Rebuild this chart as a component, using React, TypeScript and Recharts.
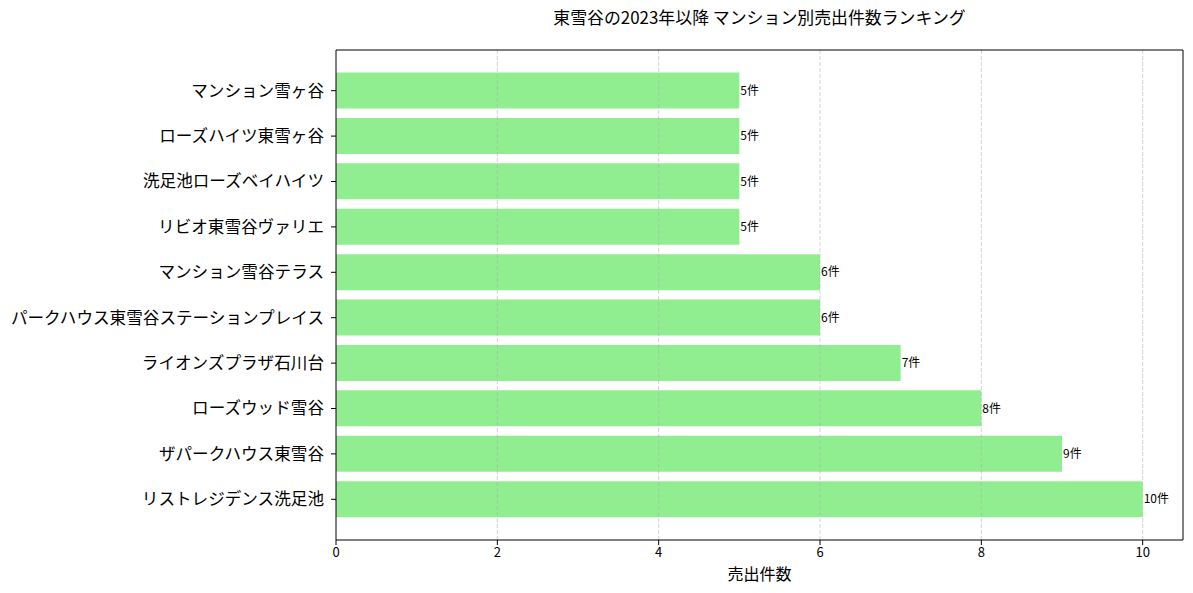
import React from "react";
import {
  BarChart,
  Bar,
  XAxis,
  YAxis,
  ReferenceLine,
  LabelList,
} from "recharts";

const names = [
  "マンション雪ヶ谷",
  "ローズハイツ東雪ヶ谷",
  "洗足池ローズベイハイツ",
  "リビオ東雪谷ヴァリエ",
  "マンション雪谷テラス",
  "パークハウス東雪谷ステーションプレイス",
  "ライオンズプラザ石川台",
  "ローズウッド雪谷",
  "ザパークハウス東雪谷",
  "リストレジデンス洗足池",
];
const counts = [5, 5, 5, 5, 6, 6, 7, 8, 9, 10];
const xTicks = [0, 2, 4, 6, 8, 10];
const gridTicks = [2, 4, 6, 8, 10];

const title = "東雪谷の2023年以降 マンション別売出件数ランキング";
const xLabel = "売出件数";

const data = names.map((name, i) => ({ name, count: counts[i] }));

const FONT = "'Noto Sans CJK JP', 'Noto Sans', sans-serif";

export default function App() {
  return (
    <div
      style={{
        position: "absolute",
        left: 0,
        top: 0,
        width: 1193,
        height: 593,
        background: "#fff",
        fontFamily: FONT,
      }}
    >
      <div
        style={{
          position: "absolute",
          left: 336,
          width: 847,
          top: 5,
          textAlign: "center",
          fontSize: 16.9,
          lineHeight: "24px",
          color: "#000",
        }}
      >
        {title}
      </div>
      <div
        style={{
          position: "absolute",
          left: 336,
          width: 847,
          top: 562,
          textAlign: "center",
          fontSize: 16,
          lineHeight: "22px",
          color: "#000",
        }}
      >
        {xLabel}
      </div>
      <BarChart
        width={1193}
        height={593}
        data={data}
        layout="vertical"
        margin={{ top: 49, right: 9, bottom: 0, left: 0 }}
        barCategoryGap="10%"
        style={{ fontFamily: FONT }}
      >
        <XAxis
          type="number"
          dataKey="count"
          domain={[0, 10.5]}
          ticks={xTicks}
          allowDataOverflow
          height={53}
          tickSize={5}
          tickMargin={3}
          stroke="#000"
          tick={{ fontSize: 13, fill: "#000" }}
          axisLine={{ stroke: "#000", strokeWidth: 1 }}
          tickLine={{ stroke: "#000" }}
        />
        <XAxis
          xAxisId="top"
          orientation="top"
          type="number"
          domain={[0, 10.5]}
          height={1}
          tick={false}
          tickLine={false}
          stroke="#000"
          axisLine={{ stroke: "#000", strokeWidth: 1 }}
        />
        <YAxis
          type="category"
          dataKey="name"
          width={336}
          tickSize={5}
          tickMargin={7}
          padding={{ top: 18, bottom: 18 }}
          stroke="#000"
          tick={{ fontSize: 16.6, fill: "#000" }}
          axisLine={{ stroke: "#000", strokeWidth: 1 }}
          tickLine={{ stroke: "#000" }}
          interval={0}
        />
        <YAxis
          yAxisId="right"
          orientation="right"
          type="category"
          dataKey="name"
          width={1}
          tick={false}
          tickLine={false}
          stroke="#000"
          axisLine={{ stroke: "#000", strokeWidth: 1 }}
        />
        <Bar dataKey="count" fill="#90EE90" isAnimationActive={false}>
          <LabelList
            dataKey="count"
            position="right"
            offset={1}
            formatter={(v: number) => `${v}件`}
            style={{ fontSize: 12, fill: "#000", fontFamily: FONT }}
          />
        </Bar>
        {gridTicks.map((t) => (
          <ReferenceLine
            key={t}
            x={t}
            stroke="#b0b0b0"
            strokeOpacity={0.7}
            strokeDasharray="4 2"
            strokeWidth={0.8}
          />
        ))}
      </BarChart>
    </div>
  );
}
